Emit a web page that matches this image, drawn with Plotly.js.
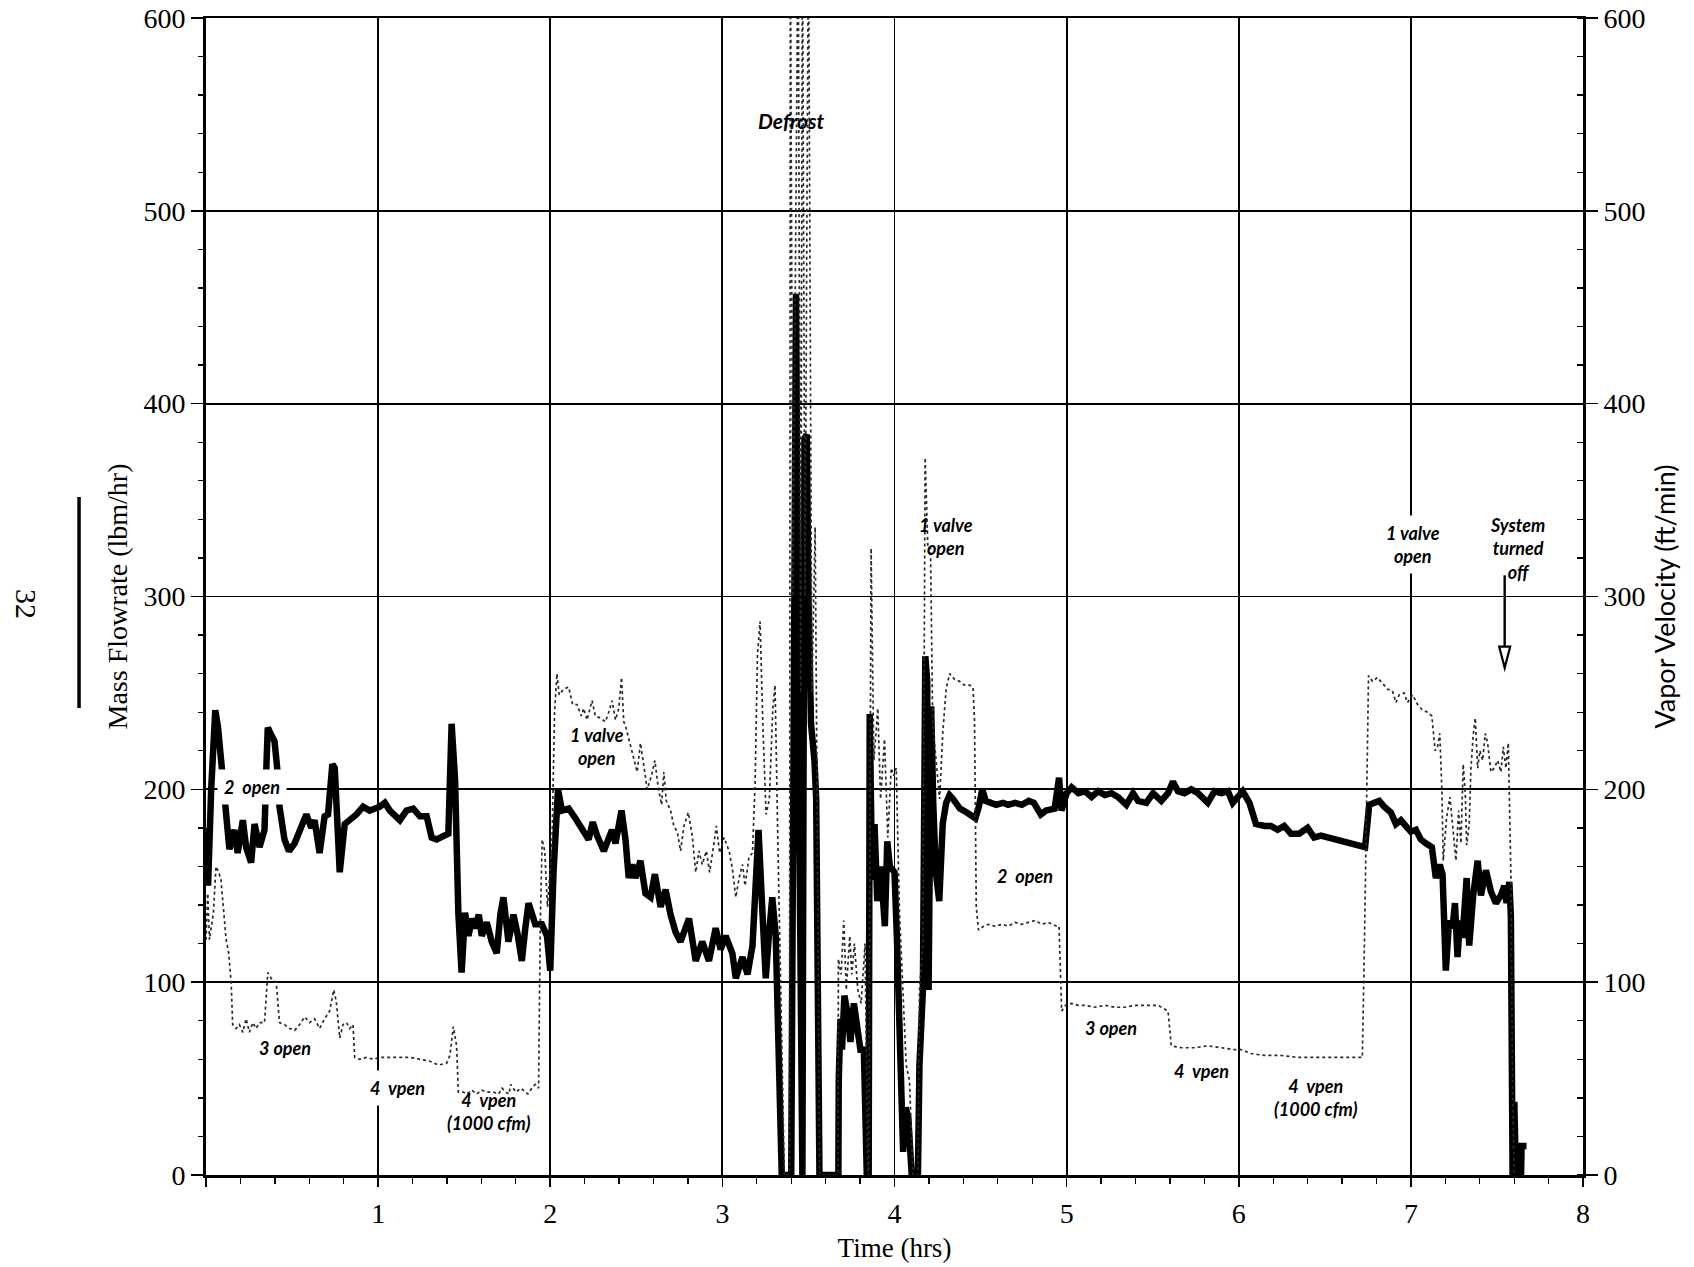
<!DOCTYPE html>
<html>
<head>
<meta charset="utf-8">
<script src="https://cdn.plot.ly/plotly-3.0.1.min.js"></script>
<style>html,body{margin:0;padding:0;background:#fff;}#chart{width:1694px;height:1267px;}</style>
</head>
<body>
<div id="chart"></div>
<script>
// Mass flowrate (lbm/hr), solid line, left axis
const massTime = [0,0.012,0.03,0.054,0.07,0.1,0.12,0.136,0.165,0.184,0.214,0.233,0.262,0.282,0.311,0.34,0.352,0.359,0.38,0.398,0.417,0.427,0.456,0.482,0.515,0.544,0.583,0.612,0.631,0.66,0.689,0.709,0.734,0.748,0.777,0.806,0.835,0.874,0.913,0.951,1.01,1.039,1.068,1.126,1.165,1.204,1.243,1.282,1.311,1.34,1.408,1.427,1.447,1.466,1.485,1.505,1.525,1.545,1.563,1.585,1.602,1.631,1.66,1.689,1.71,1.728,1.757,1.786,1.81,1.835,1.855,1.874,1.913,1.951,1.981,2.0,2.019,2.045,2.068,2.107,2.146,2.184,2.223,2.247,2.272,2.311,2.34,2.359,2.379,2.414,2.437,2.456,2.476,2.495,2.524,2.553,2.583,2.608,2.641,2.67,2.699,2.728,2.757,2.806,2.845,2.883,2.922,2.961,2.99,3.019,3.058,3.078,3.117,3.146,3.175,3.21,3.229,3.252,3.27,3.29,3.31,3.325,3.345,3.40,3.428,3.445,3.457,3.465,3.477,3.49,3.50,3.515,3.535,3.545,3.564,3.674,3.676,3.686,3.695,3.709,3.725,3.744,3.764,3.783,3.802,3.822,3.839,3.85,3.856,3.87,3.884,3.90,3.92,3.944,3.958,3.973,4.0,4.014,4.035,4.05,4.065,4.08,4.10,4.136,4.145,4.155,4.165,4.179,4.19,4.198,4.213,4.225,4.24,4.26,4.28,4.30,4.32,4.34,4.38,4.42,4.47,4.49,4.51,4.53,4.555,4.59,4.63,4.66,4.70,4.74,4.78,4.81,4.85,4.88,4.93,4.956,4.97,5.0,5.029,5.068,5.106,5.145,5.183,5.222,5.261,5.299,5.347,5.386,5.415,5.463,5.502,5.55,5.589,5.618,5.647,5.685,5.724,5.763,5.82,5.859,5.90,5.937,5.965,6.0,6.023,6.062,6.10,6.15,6.187,6.226,6.264,6.303,6.351,6.40,6.438,6.477,6.515,6.554,6.593,6.631,6.67,6.712,6.734,6.758,6.787,6.816,6.845,6.884,6.913,6.942,6.98,7.0,7.029,7.058,7.087,7.122,7.145,7.168,7.184,7.203,7.222,7.242,7.256,7.271,7.285,7.3,7.324,7.339,7.362,7.388,7.407,7.436,7.465,7.494,7.523,7.543,7.556,7.572,7.581,7.591,7.601,7.61,7.64,7.643,7.672];
const massFlow = [180,150,200,241,232,205,185,169,179,167,184,170,162,182,170,179,215,232,228,225,208,191,174,168,172,179,187,180,184,167,186,187,213,211,157,182,184,187,191,189,191,193,189,184,189,190,186,186,175,174,177,234,205,136,105,136,124,133,128,135,124,131,121,115,135,144,121,135,125,111,128,141,130,130,124,106,157,200,189,190,185,179,174,183,176,168,176,179,172,189,174,154,161,154,163,146,144,156,139,148,135,126,121,133,111,121,111,128,117,124,115,102,113,104,119,179,143,102,124,144,124,81,0,0,457,200,0,0,382,384,300,234,215,195,0,0,49,81,65,93,85,69,89,77,65,65,0,0,239,153,182,142,160,129,173,160,157,123,60,12,35,30,0,0,57,77,96,269,256,96,243,193,157,142,182,193,197,195,190,188,185,191,200,194,193,192,193,192,193,192,194,193,187,189,190,206,189,198,201,198,199,196,199,197,198,196,192,198,194,193,198,194,198,204,199,198,200,198,193,199,198,199,193,196,199,193,182,181,181,179,181,177,177,180,175,176,175,174,173,172,171,170,170,192,193,194,191,188,182,184,180,178,179,174,172,170,154,161,156,106,132,128,141,113,132,123,154,119,145,163,145,158,147,141,145,150,141,152,134,0,38,0,0,15,15];

// Vapor velocity (ft/min), dotted line, right axis
const velTime = [0,0.01,0.02,0.043,0.058,0.074,0.087,0.101,0.117,0.132,0.146,0.155,0.175,0.194,0.214,0.233,0.252,0.272,0.291,0.311,0.34,0.359,0.379,0.408,0.427,0.456,0.485,0.515,0.544,0.573,0.602,0.631,0.66,0.689,0.718,0.742,0.757,0.777,0.796,0.816,0.835,0.854,0.864,0.893,0.932,0.971,1.01,1.049,1.087,1.126,1.184,1.243,1.301,1.35,1.398,1.417,1.437,1.456,1.466,1.495,1.515,1.544,1.573,1.602,1.631,1.67,1.70,1.72,1.74,1.76,1.77,1.80,1.83,1.87,1.90,1.913,1.932,1.942,1.953,1.968,1.984,2.01,2.025,2.039,2.052,2.078,2.107,2.13,2.155,2.181,2.194,2.214,2.243,2.262,2.291,2.32,2.34,2.359,2.379,2.398,2.414,2.427,2.437,2.505,2.524,2.544,2.563,2.588,2.608,2.627,2.647,2.66,2.674,2.699,2.718,2.738,2.757,2.777,2.802,2.825,2.845,2.864,2.883,2.907,2.926,2.951,2.965,2.984,3.01,3.039,3.058,3.078,3.097,3.117,3.132,3.155,3.175,3.19,3.204,3.219,3.235,3.254,3.273,3.293,3.306,3.322,3.341,3.36,3.39,3.395,3.41,3.44,3.455,3.465,3.48,3.50,3.52,3.539,3.55,3.565,3.672,3.674,3.69,3.705,3.72,3.74,3.752,3.767,3.787,3.806,3.829,3.845,3.85,3.864,3.88,3.903,3.919,3.942,3.961,3.981,3.996,4.01,4.029,4.048,4.068,4.087,4.107,4.136,4.145,4.165,4.178,4.194,4.209,4.222,4.242,4.262,4.281,4.30,4.32,4.35,4.378,4.407,4.436,4.456,4.465,4.475,4.488,4.517,4.546,4.585,4.624,4.662,4.70,4.739,4.778,4.817,4.855,4.894,4.942,4.956,4.971,4.994,5.029,5.068,5.106,5.164,5.222,5.28,5.338,5.396,5.473,5.531,5.589,5.608,5.666,5.743,5.82,5.898,5.975,6.014,6.071,6.149,6.245,6.342,6.438,6.554,6.631,6.718,6.73,6.754,6.777,6.806,6.835,6.864,6.893,6.913,6.932,6.961,6.98,7.01,7.039,7.068,7.097,7.122,7.141,7.155,7.168,7.18,7.188,7.207,7.227,7.246,7.262,7.277,7.291,7.304,7.316,7.324,7.339,7.349,7.362,7.374,7.388,7.401,7.417,7.432,7.446,7.465,7.484,7.504,7.523,7.537,7.552,7.566,7.572,7.581,7.591,7.60];
const vaporVel = [122,146,122,136,160,157,153,139,122,115,100,78,76,78,74,81,74,79,76,79,79,105,102,100,79,78,76,75,78,82,79,81,76,81,85,96,90,71,78,79,76,78,61,60,61,60,61,61,61,61,61,60,59,57,58,62,77,67,43,43,42,44,42,44,43,43,42,45,43,42,47,43,45,42,46,47,45,130,174,168,139,172,240,260,249,252,253,244,244,238,242,236,246,238,237,235,240,246,236,242,258,235,233,209,224,212,200,207,215,201,192,209,194,189,181,178,168,181,188,176,157,168,161,168,157,172,181,167,175,168,159,144,154,161,150,165,167,203,270,287,234,187,195,242,254,175,77,0,0,650,300,650,250,650,300,650,250,336,200,0,0,112,104,132,96,124,104,120,96,89,120,0,0,325,215,242,195,226,175,211,207,211,136,96,57,49,0,0,96,120,372,325,325,234,215,195,230,252,260,257,256,254,254,253,235,139,127,129,130,129,130,129,131,130,131,132,130,131,129,129,85,88,89,88,88,87,88,87,87,88,88,88,85,67,66,66,67,66,65,65,63,62,62,61,61,61,61,61,119,259,256,258,255,252,251,245,249,250,245,249,244,241,240,238,220,222,229,200,163,185,196,178,163,189,172,213,198,171,182,211,228,237,211,220,215,229,224,209,211,215,209,222,211,224,202,156,45,0];

// Axis ticks
const xTickVals = [0,1,2,3,4,5,6,7,8];
const xTickText = ['', '1', '2', '3', '4', '5', '6', '7', '8'];
const yTickVals = [0,100,200,300,400,500,600];

// Annotation labels
const labelTexts = ['Defrost', '2\u00a0\u00a0open', '3 open', '4\u00a0\u00a0vpen', '4\u00a0\u00a0vpen<br>(1000 cfm)', '1 valve<br>open', '1 valve<br>open', '2\u00a0\u00a0open', '3 open', '4\u00a0\u00a0vpen', '4\u00a0\u00a0vpen<br>(1000 cfm)', '1 valve<br>open', 'System<br>turned<br>off'];
const labelX = [3.40, 0.27, 0.46, 1.11, 1.646, 2.27, 4.30, 4.76, 5.257, 5.785, 6.45, 7.01, 7.62];
const labelY = [547, 201, 66, 45, 33, 222, 331, 155, 76, 54, 40, 327, 325];
const labelBg = [false, true, false, true, false, false, false, true, false, true, false, true, false];

const serif = 'Liberation Serif, Times New Roman, serif';
const labelFont = {family: 'Lato, Open Sans, sans-serif', size: 18, style: 'italic', weight: 'bold', color: '#000'};

const traces = [
  {x: massTime, y: massFlow, type: 'scatter', mode: 'lines', name: 'Mass Flowrate',
   line: {color: '#000', width: 6.5}, yaxis: 'y'},
  {x: velTime, y: vaporVel, type: 'scatter', mode: 'lines', name: 'Vapor Velocity',
   line: {color: '#2a2a2a', width: 1.7, dash: 'dot'}, yaxis: 'y2'}
];

const annotations = labelTexts.map((t, i) => ({
  x: labelX[i], y: labelY[i], xref: 'x', yref: 'y', text: t, showarrow: false,
  font: Object.assign({}, labelFont, i === 0 ? {size: 21} : {}),
  bgcolor: labelBg[i] ? '#fff' : 'rgba(0,0,0,0)', borderpad: labelBg[i] ? 6 : 0,
  align: 'center'
}));
annotations.push({x: -0.130, y: 0.4935, xref: 'paper', yref: 'paper', xanchor: 'center', yanchor: 'middle',
  text: '32', showarrow: false, textangle: 90, font: {family: serif, size: 30, color: '#000'}});

const shapes = [
  {type: 'line', xref: 'paper', yref: 'paper', x0: -0.0922, x1: -0.0922, y0: 0.4036, y1: 0.586,
   line: {color: '#000', width: 3.5}},
  {type: 'line', xref: 'x', yref: 'y', x0: 7.545, x1: 7.545, y0: 311, y1: 273, line: {color: '#000', width: 2.4}},
  {type: 'path', xref: 'x', yref: 'y', path: 'M 7.513 274 L 7.577 274 L 7.545 263 Z',
   fillcolor: '#fff', line: {color: '#000', width: 2.2}}
];

const layout = {
  width: 1694, height: 1267,
  margin: {l: 206, r: 111, t: 18, b: 92, pad: 0},
  paper_bgcolor: '#fff', plot_bgcolor: '#fff',
  showlegend: false,
  font: {family: serif, color: '#000'},
  xaxis: {
    range: [0, 8], tickvals: xTickVals, ticktext: xTickText,
    showgrid: true, gridcolor: '#000', gridwidth: 1.8,
    showline: true, linecolor: '#000', linewidth: 2.5, mirror: true,
    ticks: 'outside', ticklen: 9, tickwidth: 1.6, tickcolor: '#000',
    minor: {dtick: 0.2, ticks: 'outside', ticklen: 6, tickwidth: 1.3, tickcolor: '#000', showgrid: false},
    zeroline: false, ticklabelstandoff: 3,
    tickfont: {family: serif, size: 28, color: '#000'},
    title: {text: 'Time (hrs)', font: {family: serif, size: 27, color: '#000'}, standoff: 10}
  },
  yaxis: {
    range: [0, 600], tickvals: yTickVals,
    showgrid: true, gridcolor: '#000', gridwidth: 1.8,
    showline: true, linecolor: '#000', linewidth: 3,
    ticks: 'outside', ticklen: 12, tickwidth: 1.6, tickcolor: '#000',
    minor: {dtick: 20, ticks: 'outside', ticklen: 5, tickwidth: 1.3, tickcolor: '#000', showgrid: false},
    zeroline: false,
    tickfont: {family: serif, size: 28, color: '#000'},
    title: {text: 'Mass Flowrate (lbm/hr)', font: {family: serif, size: 28, color: '#000'}, standoff: 8}
  },
  yaxis2: {
    range: [0, 600], tickvals: yTickVals, overlaying: 'y', side: 'right',
    showgrid: false,
    showline: true, linecolor: '#000', linewidth: 3,
    ticks: 'outside', ticklen: 12, tickwidth: 1.6, tickcolor: '#000',
    minor: {dtick: 20, ticks: 'inside', ticklen: 6, tickwidth: 1.3, tickcolor: '#000', showgrid: false},
    zeroline: false,
    tickfont: {family: serif, size: 28, color: '#000'},
    title: {text: 'Vapor Velocity (ft/min)', font: {family: 'Lato, Open Sans, sans-serif', size: 27, color: '#000'}, standoff: 12}
  },
  annotations: annotations,
  shapes: shapes
};

Plotly.newPlot('chart', traces, layout, {displayModeBar: false, staticPlot: true});
</script>
</body>
</html>
